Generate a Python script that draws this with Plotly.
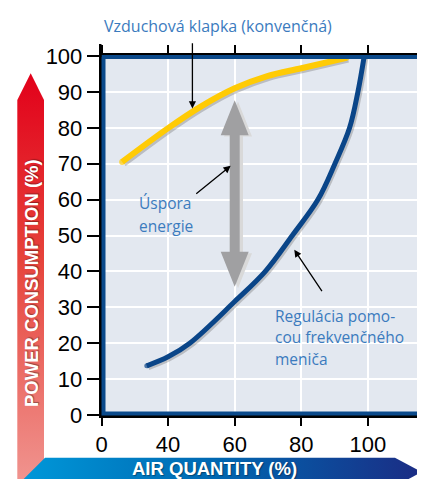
import plotly.graph_objects as go

# ---------------- data ----------------
air_vfd = [33.6, 40, 46.5, 60, 69.2, 77.3, 85.0, 90.1, 94.5, 97.0, 98.9]
power_vfd = [13.7, 16.2, 20, 31.6, 40, 50, 60, 70, 80, 90, 100]
air_damper = [26.2, 40, 49.8, 60, 69.8, 80, 93.6]
power_damper = [70.5, 79.9, 85.9, 91.0, 94.4, 96.6, 99.5]

x_tickvals = [20, 40, 60, 80, 100]
x_ticktext = ["0", "40", "60", "80", "100"]
y_tickvals = [0, 10, 20, 30, 40, 50, 60, 70, 80, 90, 100]

saving_x = 60
saving_top = 87.7
saving_bottom = 35.7

# page is 425x479; the html body adds an 8px margin, so the figure is 8px smaller
PAGE_W, PAGE_H, BODY = 425, 479, 8
W, H = PAGE_W - BODY, PAGE_H - BODY
NAVY = "#0B4A8B"
TXT = "#3B7BBE"

fig = go.Figure()

# ---------- decorative gradient axis arrows (page-pixel overlay axes) ----------
fig.add_trace(go.Scatter(
    x=[17.3, 30.7, 44, 44, 17.3, 17.3], y=[100, 73.3, 100, 490, 490, 100],
    xaxis="x2", yaxis="y2", mode="lines", line=dict(width=0), fill="toself",
    fillgradient=dict(type="vertical",
                      colorscale=[[0, "#E2001A"], [0.45, "#E6423A"], [1, "#F0938E"]],
                      start=73, stop=479),
    hoverinfo="skip", showlegend=False))
fig.add_trace(go.Scatter(
    x=[45, 395, 421.7, 395, 16.4, 45], y=[457.7, 457.7, 472, 486.3, 486.3, 457.7],
    xaxis="x2", yaxis="y2", mode="lines", line=dict(width=0), fill="toself",
    fillgradient=dict(type="horizontal",
                      colorscale=[[0, "#0099DA"], [0.5, "#0066B0"], [1, "#1B2C84"]],
                      start=17, stop=422),
    hoverinfo="skip", showlegend=False))

# ---------- gray "saving" double arrow ----------
head_len, head_half, shaft_half = 9.75, 4.2, 1.5
def arrow_poly(xc, yt, yb):
    xs = [xc, xc + head_half, xc + shaft_half, xc + shaft_half, xc + head_half, xc,
          xc - head_half, xc - shaft_half, xc - shaft_half, xc - head_half, xc]
    ys = [yt, yt - head_len, yt - head_len, yb + head_len, yb + head_len, yb,
          yb + head_len, yb + head_len, yt - head_len, yt - head_len, yt]
    return xs, ys

sx, sy = arrow_poly(saving_x + 1.0, saving_top - 0.4, saving_bottom - 0.4)
fig.add_trace(go.Scatter(x=sx, y=sy, mode="lines", fill="toself", line=dict(width=0),
                         fillcolor="#D9D9D9", hoverinfo="skip", showlegend=False))
ax_, ay_ = arrow_poly(saving_x, saving_top, saving_bottom)
fig.add_trace(go.Scatter(x=ax_, y=ay_, mode="lines", fill="toself", line=dict(width=0),
                         fillcolor="#A0A0A2", hoverinfo="skip", showlegend=False))

# ---------- curve shadows ----------
for xs, ys, w in [(air_damper, power_damper, 6), (air_vfd, power_vfd, 5)]:
    fig.add_trace(go.Scatter(x=[v + 0.5 for v in xs], y=[v - 0.5 for v in ys], mode="lines",
                             line=dict(color="rgba(110,110,110,0.35)", width=w, shape="spline"),
                             hoverinfo="skip", showlegend=False))

# ---------- curves ----------
fig.add_trace(go.Scatter(
    x=air_damper, y=power_damper, mode="lines+markers",
    line=dict(color="#FFCB05", width=6, shape="spline"),
    marker=dict(color="#FFCB05", size=[6] + [0] * (len(air_damper) - 2) + [6], line=dict(width=0)),
    showlegend=False))
fig.add_trace(go.Scatter(
    x=air_vfd, y=power_vfd, mode="lines+markers",
    line=dict(color="#0A4588", width=5, shape="spline"),
    marker=dict(color="#0A4588", size=[5] + [0] * (len(air_vfd) - 2) + [5], line=dict(width=0)),
    showlegend=False))

# ---------- layout (page pixel coordinates) ----------
LEFT, TOP, BOT = 101.5, 56.0, 415.0
x0d = (LEFT - BODY) / W
y0d = (PAGE_H - BOT) / H
y1d = (PAGE_H - TOP) / H
xmax = 20 + (PAGE_W - LEFT) / 3.33

tickfont = dict(family="Liberation Sans, Arial, sans-serif", size=22, color="black")

fig.update_layout(
    width=W, height=H, margin=dict(l=0, r=0, t=0, b=0, autoexpand=False),
    paper_bgcolor="white", plot_bgcolor="rgba(0,0,0,0)",
    xaxis=dict(domain=[x0d, 1], range=[20, xmax], tickvals=x_tickvals, ticktext=x_ticktext,
               showgrid=True, gridcolor="white", gridwidth=2, zeroline=False,
               showline=True, linecolor="black", linewidth=2.5, mirror="ticks",
               ticks="outside", ticklen=8, tickwidth=1.5, tickcolor="black",
               tickfont=tickfont, fixedrange=True, anchor="y", automargin=False),
    yaxis=dict(domain=[y0d, y1d], range=[0, 100], tickvals=y_tickvals,
               showgrid=True, gridcolor="white", gridwidth=2, zeroline=False,
               showline=True, linecolor="black", linewidth=2.5,
               ticks="outside", ticklen=12, tickwidth=1.5, tickcolor="black",
               tickfont=tickfont, fixedrange=True, anchor="x", automargin=False),
    xaxis2=dict(domain=[0, 1], range=[BODY, PAGE_W], visible=False, fixedrange=True,
                anchor="y2", automargin=False),
    yaxis2=dict(domain=[0, 1], range=[PAGE_H, BODY], visible=False, fixedrange=True,
                anchor="x2", automargin=False),
    shapes=[
        dict(type="rect", xref="x domain", yref="y domain", x0=0, x1=1, y0=0, y1=1,
             fillcolor="#E3E8F0", line=dict(width=0), layer="below"),
        dict(type="rect", xref="x2", yref="y2", x0=LEFT + 2, x1=440, y0=TOP + 1, y1=BOT - 1.5,
             line=dict(color=NAVY, width=4), layer="above"),
        dict(type="line", xref="x2", yref="y2", x0=LEFT - 1.25, x1=LEFT - 1.25, y0=44, y1=TOP + 1,
             line=dict(color="black", width=2.5), layer="above"),
    ],
)

ann = []
# pointer arrows (head x, head y, tail x, tail y)
for hx, hy, tx, ty in [(47.3, 85.4, 47.3, 104.0), (58.8, 69.4, 48.0, 61.3), (77.9, 46.0, 86.5, 34.1)]:
    ann.append(dict(x=hx, y=hy, ax=tx, ay=ty, xref="x", yref="y", axref="x", ayref="y",
                    text="", showarrow=True, arrowhead=2, arrowsize=1.1, arrowwidth=1.3,
                    arrowcolor="black"))
lbl = dict(family="Open Sans, sans-serif", size=15.5, color=TXT)
ann.append(dict(x=218, y=26, xref="x2", yref="y2", text="Vzduchová klapka (konvenčná)",
                showarrow=False, font=dict(lbl, size=16), xanchor="center", yanchor="middle"))
for i, t in enumerate(["Úspora", "energie"]):
    ann.append(dict(x=30.6, y=59.0 - i * 6.4, xref="x", yref="y", text=t, showarrow=False,
                    font=lbl, xanchor="left", yanchor="middle"))
for i, t in enumerate(["Regulácia pomo-", "cou frekvenčného", "meniča"]):
    ann.append(dict(x=71.6, y=27.7 - i * 6.0, xref="x", yref="y", text=t, showarrow=False,
                    font=lbl, xanchor="left", yanchor="middle"))
bold = dict(family="Liberation Sans, Arial, sans-serif", size=18.5, color="white", weight="bold",
            shadow="1px 1px 1px rgba(0,0,0,0.35)")
ann.append(dict(x=31, y=283, xref="x2", yref="y2", text="POWER CONSUMPTION (%)", textangle=-90,
                showarrow=False, font=bold, xanchor="center", yanchor="middle"))
ann.append(dict(x=214.5, y=468.5, xref="x2", yref="y2", text="AIR QUANTITY (%)",
                showarrow=False, font=bold, xanchor="center", yanchor="middle"))
fig.update_layout(annotations=ann)

fig.write_html("out.html")
